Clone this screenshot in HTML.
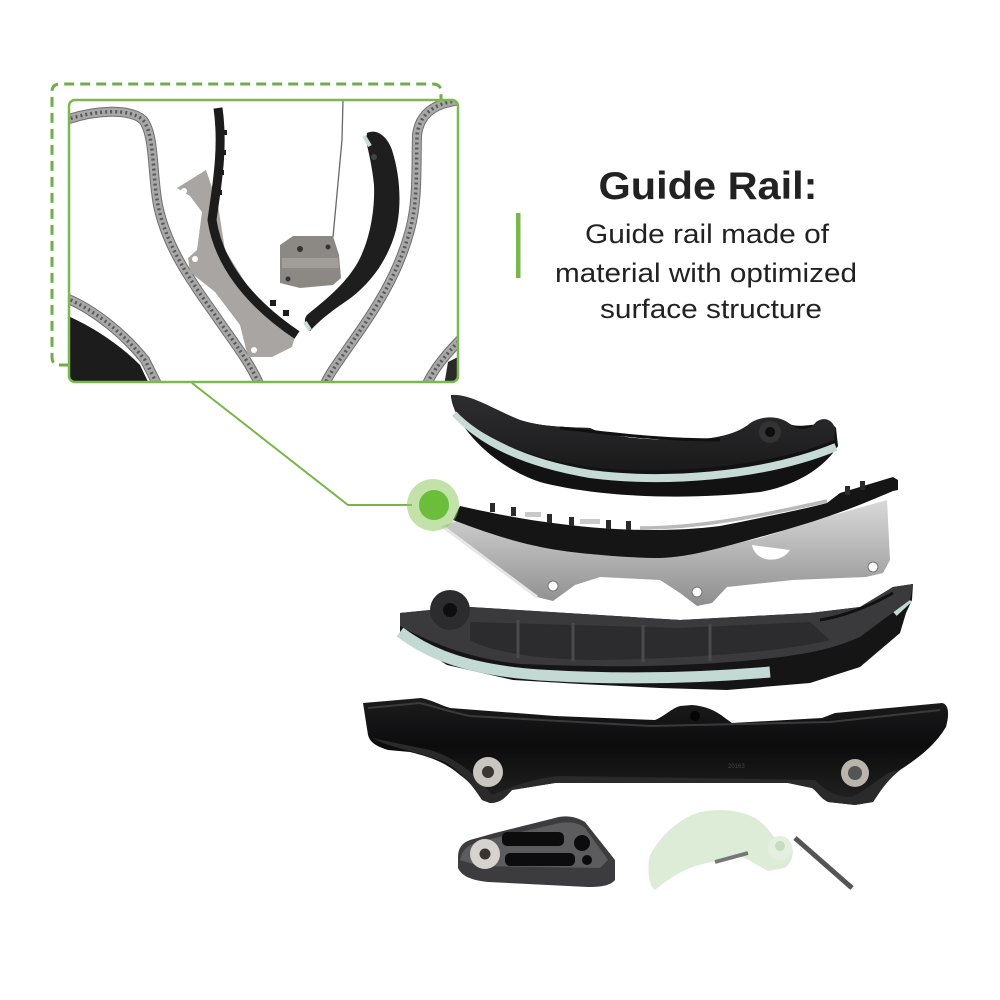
<!DOCTYPE html>
<html><head><meta charset="utf-8"><style>
html,body{margin:0;padding:0;background:#fff;}
svg{display:block;}
</style></head><body>
<svg width="1000" height="1000" viewBox="0 0 1000 1000" xmlns="http://www.w3.org/2000/svg">
<defs>
<clipPath id="ic"><rect x="69" y="100" width="389" height="282" rx="6"/></clipPath>
<linearGradient id="steel" x1="0" y1="0" x2="0" y2="1">
<stop offset="0" stop-color="#d9d9d9"/><stop offset="0.5" stop-color="#b4b4b4"/><stop offset="1" stop-color="#8e8e8e"/></linearGradient>
<linearGradient id="blk" x1="0" y1="0" x2="0" y2="1">
<stop offset="0" stop-color="#2e2e30"/><stop offset="1" stop-color="#1a1a1b"/></linearGradient>
<linearGradient id="blkD" x1="0" y1="0" x2="0" y2="1">
<stop offset="0" stop-color="#1c1c1d"/><stop offset="0.45" stop-color="#0c0c0d"/><stop offset="1" stop-color="#232324"/></linearGradient>
</defs>
<rect width="1000" height="1000" fill="#fff"/>

<!-- dashed frame -->
<path d="M69,365 L60,365 Q52,365 52,357 L52,92 Q52,84 60,84 L433,84 Q441,84 441,92 L441,100" fill="none" stroke="#71ad46" stroke-width="3" stroke-dasharray="10 6"/>

<!-- inset photo -->
<g clip-path="url(#ic)">
<rect x="69" y="100" width="389" height="282" fill="#fff"/>
<path d="M66,315 C95,328 120,345 140,365 L150,386 L66,386 Z" fill="#1c1c1c"/>
<path d="M448,362 L462,355 L462,386 L444,386 Z" fill="#2a2a2a"/>
<g fill="none">
<g stroke="#6e6e6e" stroke-width="10">
<path d="M66,120 C95,110 130,108 143,120 C155,135 152,175 158,205 C166,245 190,280 213,312 C232,340 250,362 260,386"/>
<path d="M66,298 C95,310 125,335 145,360 L158,386"/>
<path d="M462,100 C440,102 420,110 417,135 C416,170 418,200 410,230 C398,275 375,310 350,345 C340,360 330,372 324,386"/>
<path d="M462,338 C445,355 432,372 426,386"/>
</g>
<g stroke="#a8a8a8" stroke-width="8">
<path d="M66,120 C95,110 130,108 143,120 C155,135 152,175 158,205 C166,245 190,280 213,312 C232,340 250,362 260,386"/>
<path d="M66,298 C95,310 125,335 145,360 L158,386"/>
<path d="M462,100 C440,102 420,110 417,135 C416,170 418,200 410,230 C398,275 375,310 350,345 C340,360 330,372 324,386"/>
<path d="M462,338 C445,355 432,372 426,386"/>
</g>
<g stroke="#5a5a5a" stroke-width="3.5" stroke-dasharray="2 3" stroke-linecap="butt">
<path d="M66,120 C95,110 130,108 143,120 C155,135 152,175 158,205 C166,245 190,280 213,312 C232,340 250,362 260,386"/>
<path d="M66,298 C95,310 125,335 145,360 L158,386"/>
<path d="M462,100 C440,102 420,110 417,135 C416,170 418,200 410,230 C398,275 375,310 350,345 C340,360 330,372 324,386"/>
<path d="M462,338 C445,355 432,372 426,386"/>
</g>
</g>
<!-- steel bracket inset -->
<path d="M177,188 L206,170 L218,205 L225,250 L250,290 L296,333 L292,347 L272,357 L248,357 L240,325 L215,292 L190,272 L188,258 L197,250 L202,212 L190,196 Z" fill="#a8a5a2"/>
<circle cx="184" cy="191" r="3" fill="#fff"/><circle cx="195" cy="259" r="3" fill="#fff"/><circle cx="254" cy="350" r="3" fill="#fff"/>
<path d="M218,108 C224,150 216,190 212,220 C218,260 245,300 297,335" fill="none" stroke="#1c1c1c" stroke-width="9"/>
<g fill="#1c1c1c"><rect x="222" y="130" width="5" height="5"/><rect x="221" y="150" width="5" height="5"/><rect x="219" y="170" width="5" height="5"/><rect x="217" y="190" width="5" height="5"/><rect x="270" y="300" width="6" height="6"/><rect x="283" y="310" width="6" height="6"/></g>
<!-- wire -->
<path d="M343,100 L342,140 L333,237" fill="none" stroke="#666" stroke-width="1.3"/>
<!-- tensioner -->
<path d="M280,245 L293,236 L333,236 L339,255 L341,278 L333,285 L300,288 L280,283 Z" fill="#8c8884"/>
<path d="M282,258 L338,258 L339,268 L282,268 Z" fill="#a19d98"/>
<circle cx="300" cy="249" r="3" fill="#333"/><circle cx="328" cy="247" r="2.5" fill="#333"/><circle cx="288" cy="279" r="2.5" fill="#333"/>
<!-- right black rail inset -->
<path d="M367,133 C378,128 388,138 392,150 C400,175 402,205 396,230 C388,260 370,285 345,302 C330,312 318,322 310,331 C305,326 303,320 307,315 C325,300 345,285 358,262 C370,240 375,210 374,185 C372,165 368,150 366,140 Z" fill="#1e1e1e"/>
<circle cx="374" cy="157" r="3" fill="#444"/>
<path d="M364,136 L370,146" stroke="#c7ddd7" stroke-width="4"/>
<path d="M305,322 L310,330" stroke="#c7ddd7" stroke-width="4"/>
</g>
<rect x="69" y="100" width="389" height="282" rx="6" fill="none" stroke="#7cb84e" stroke-width="2.5"/>

<!-- connector -->
<path d="M192,383 L348,505 L412,505" fill="none" stroke="#78b548" stroke-width="2"/>

<!-- Rail A (top) -->
<path d="M451,397 C455,425 490,465 540,482 C600,498 690,500 760,492 C800,485 826,465 838,446 L836,428 C830,418 800,430 790,424 C775,414 755,418 748,425 C730,438 700,440 680,440 C640,440 605,436 590,428 C575,427 545,428 520,420 C495,410 470,394 451,395 Z" fill="#121213"/>
<path d="M455,413 C480,440 520,462 590,474 C660,483 760,478 836,447" fill="none" stroke="#c6dbd5" stroke-width="8"/>
<path d="M451,395 C470,393 495,410 520,420 C545,428 575,427 590,428 C605,436 640,440 680,440 C710,440 732,437 748,425 C758,416 778,414 790,424 C800,432 810,430 816,422 C824,416 834,420 835,430 L834,440 C780,463 680,476 600,468 C530,460 480,438 455,410 Z" fill="url(#blk)"/>
<path d="M560,428 C600,432 650,440 720,440" fill="none" stroke="#101010" stroke-width="3"/>
<circle cx="770" cy="432" r="11" fill="#333"/><circle cx="770" cy="432" r="5" fill="#0e0e0e"/>

<!-- Rail B (steel bracket + rail) -->
<path d="M442,526 L460,520 L580,550 L680,556 L760,538 L830,516 L887,500 L890,560 L883,573 L866,577 L793,580 L727,587 L712,603 L697,606 L680,593 L660,580 L600,577 L575,585 L553,601 L537,597 Z" fill="url(#steel)"/>
<path d="M442,526 L537,597" stroke="#e6e6e6" stroke-width="3"/>
<circle cx="553" cy="586" r="5" fill="#fff" stroke="#777" stroke-width="1"/>
<circle cx="697" cy="592" r="5" fill="#fff" stroke="#777" stroke-width="1"/>
<circle cx="873" cy="567" r="5" fill="#fff" stroke="#777" stroke-width="1"/>
<path d="M752,545 C755,562 780,565 790,550 Z" fill="#fff"/>
<path d="M460,506 C500,515 540,523 600,528 C640,531 680,531 720,526 C760,518 800,510 827,503 L840,493 L893,477 L898,480 L898,490 L893,491 C860,505 830,518 760,537 C720,548 690,557 660,558 C630,558 600,555 580,553 C545,549 513,543 453,520 Z" fill="#151516"/>
<path d="M640,528 C700,528 760,516 827,501" fill="none" stroke="#b9b9b9" stroke-width="3.5"/>
<g fill="#2a2a2a">
<rect x="490" y="503" width="5" height="9"/><rect x="511" y="507" width="5" height="9"/><rect x="547" y="514" width="5" height="9"/><rect x="569" y="517" width="5" height="9"/><rect x="606" y="520" width="5" height="9"/><rect x="626" y="521" width="5" height="9"/><rect x="845" y="486" width="5" height="9"/><rect x="860" y="481" width="5" height="9"/>
</g>
<g fill="#c8c8c8"><rect x="525" y="512" width="16" height="5"/><rect x="580" y="519" width="20" height="5"/></g>

<!-- green highlight -->
<circle cx="433" cy="505" r="26" fill="#8fca63" fill-opacity="0.55"/>
<circle cx="434" cy="505" r="15" fill="#6cbd3a"/>

<!-- Rail C -->
<path d="M400,613 L430,610 L470,607 L680,620 L810,613 L860,607 L893,587 L913,584 L912,600 L906,613 L900,633 L860,667 L810,683 L727,690 L660,688 L580,684 L513,680 L447,665 L400,635 Z" fill="#151516"/>
<path d="M400,632 C430,655 470,670 540,675 C620,680 700,678 770,672" fill="none" stroke="#c3d9d3" stroke-width="11"/>
<path d="M895,614 L910,600" stroke="#c3d9d3" stroke-width="5"/>
<path d="M400,613 L430,610 L470,607 L680,620 L810,613 L860,607 L893,587 L913,584 L910,600 L880,622 L860,637 C830,650 800,658 700,664 C640,667 600,667 520,664 C480,660 440,648 400,626 Z" fill="#3a3a3c"/>
<path d="M470,622 L680,628 L810,622 L830,640 C780,652 700,658 600,660 C540,660 490,652 470,640 Z" fill="#2c2c2e"/>
<g stroke="#4a4a4c" stroke-width="3"><line x1="518" y1="620" x2="518" y2="658"/><line x1="573" y1="623" x2="573" y2="661"/><line x1="643" y1="625" x2="643" y2="662"/><line x1="710" y1="624" x2="710" y2="661"/></g>
<path d="M820,620 C850,615 875,603 893,593" fill="none" stroke="#111" stroke-width="3"/>
<circle cx="450" cy="610" r="20" fill="#2c2c2e"/><circle cx="450" cy="610" r="7" fill="#0e0e0e"/>

<!-- Rail D -->
<path d="M363,703 L421,698 C432,700 440,705 450,708 L555,716 L655,720 C665,716 672,708 680,706 L692,705 C705,706 715,710 725,718 L732,723 L822,718 L835,713 L942,703 C948,704 950,712 946,727 C935,745 920,757 900,770 C885,782 878,795 873,802 L855,805 L828,802 C820,798 818,792 812,788 L788,783 L655,782 L555,783 L512,790 C505,798 500,803 490,803 L482,800 C476,790 470,782 460,775 C445,762 430,757 410,752 L388,750 C375,746 370,742 368,735 Z" fill="url(#blkD)"/>
<path d="M368,708 L420,703 C440,708 450,712 470,716 L650,726 L830,722 L940,710" fill="none" stroke="#3a3a3b" stroke-width="2"/>
<path d="M372,738 C390,748 420,752 445,762 C462,772 472,785 482,800 L490,803 C500,803 505,798 512,790 L555,783 L788,783 L812,788 C818,792 820,798 828,802 L855,805 L873,802 C878,795 885,782 900,770 L890,772 C870,785 860,795 850,797 C835,797 825,790 815,780 L560,776 C530,778 505,790 492,795 C480,780 462,760 430,750 Z" fill="#2a2a2b"/>
<circle cx="488" cy="772" r="15" fill="#c9c6c1"/><circle cx="488" cy="772" r="6" fill="#3b3631"/>
<circle cx="855" cy="773" r="14" fill="#b9b5ad"/><circle cx="855" cy="773" r="7" fill="#555"/>
<circle cx="695" cy="716" r="5" fill="#050505"/>
<text x="728" y="768" font-family="Liberation Sans, sans-serif" font-size="6" fill="#444">20163</text>

<!-- Part E -->
<path d="M458,857 C458,848 462,843 470,840 L495,833 L555,818 C565,815 575,816 585,822 L615,860 L615,880 C610,886 600,887 588,887 L488,882 C470,880 462,876 458,868 Z" fill="#3c3c3e"/>
<path d="M460,860 C462,850 468,845 478,842 L555,824 C568,821 578,822 585,828 L608,860 L600,868 L480,866 Z" fill="#5c5c5e"/>
<g fill="#0c0c0c">
<rect x="502" y="832" width="62" height="14" rx="5"/>
<rect x="505" y="853" width="70" height="13" rx="5"/>
<circle cx="582" cy="843" r="8"/>
<circle cx="587" cy="860" r="5"/>
</g>
<circle cx="485" cy="854" r="15" fill="#d6d3ce"/><circle cx="485" cy="854" r="5.5" fill="#3a3430"/>

<!-- Part F -->
<path d="M650,855 C660,838 675,820 700,812 C720,808 740,810 755,818 C765,824 770,832 775,838 L790,842 C795,850 793,862 785,868 L768,871 C758,866 750,860 742,857 C725,860 705,862 690,868 C675,874 665,882 655,890 C648,885 647,868 650,855 Z" fill="#dcecd6"/>
<path d="M795,838 L852,888" stroke="#555" stroke-width="5"/>
<path d="M715,862 L748,853" stroke="#777" stroke-width="4"/>
<circle cx="780" cy="848" r="12" fill="#e4f0df"/><circle cx="780" cy="846" r="5" fill="#c6dbc1"/>

<!-- text -->
<rect x="516" y="213" width="4.5" height="65" fill="#7ab648"/>
<g font-family="Liberation Sans, Arial, sans-serif" fill="#222" text-anchor="middle">
<text x="708" y="199" font-size="39" font-weight="bold" textLength="219" lengthAdjust="spacingAndGlyphs">Guide Rail:</text>
<text x="707" y="243" font-size="27" textLength="244" lengthAdjust="spacingAndGlyphs">Guide rail made of</text>
<text x="706" y="282" font-size="27" textLength="302" lengthAdjust="spacingAndGlyphs">material with optimized</text>
<text x="711" y="318" font-size="27" textLength="222" lengthAdjust="spacingAndGlyphs">surface structure</text>
</g>
</svg>
</body></html>
